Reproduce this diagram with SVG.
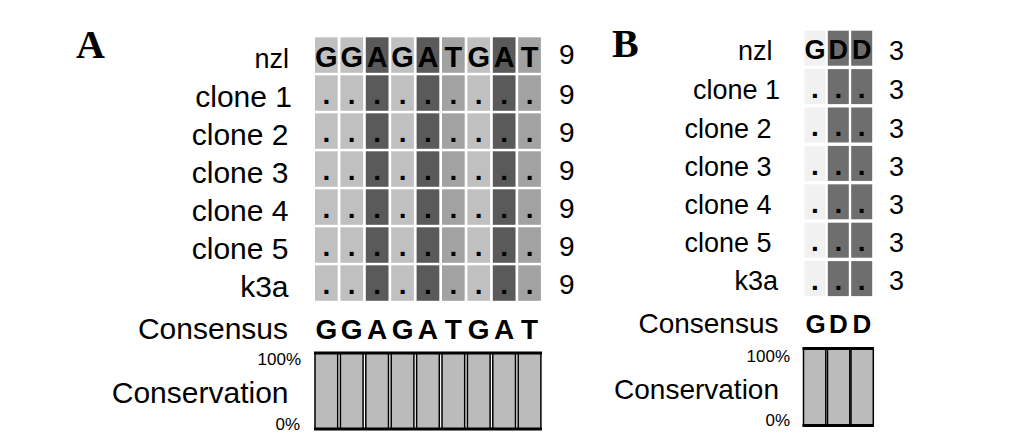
<svg xmlns="http://www.w3.org/2000/svg" width="1033" height="440" viewBox="0 0 1033 440">
<style>
text{font-family:"Liberation Sans",Arial,sans-serif;fill:#000}
.lbl{font-size:30px;text-anchor:end}
.num{font-size:28px}
.pl{font-family:"Liberation Serif","Times New Roman",serif;font-size:40px;font-weight:bold}
.seq{font-size:29px;font-weight:bold;text-anchor:middle}
.dot{font-size:28px;font-weight:bold;text-anchor:middle}
.pct{font-size:17px;text-anchor:end}
.cG{fill:#c0c0c0}.cA{fill:#5a5a5a}.cT{fill:#a2a2a2}
.bG{fill:#f1f1f1}.bD{fill:#6e6e6e}
.bar{fill:#bbbbbb;stroke:#000;stroke-width:1.5}
.rule{stroke:#000;stroke-width:3}
</style>
<defs>
<g id="rowA">
<rect class="cG" x="315" y="0" width="22.7" height="35.5"/>
<rect class="cG" x="340.4" y="0" width="22.7" height="35.5"/>
<rect class="cA" x="365.8" y="0" width="22.7" height="35.5"/>
<rect class="cG" x="391.2" y="0" width="22.7" height="35.5"/>
<rect class="cA" x="416.6" y="0" width="22.7" height="35.5"/>
<rect class="cT" x="442" y="0" width="22.7" height="35.5"/>
<rect class="cG" x="467.4" y="0" width="22.7" height="35.5"/>
<rect class="cA" x="492.8" y="0" width="22.7" height="35.5"/>
<rect class="cT" x="518.2" y="0" width="22.7" height="35.5"/>
</g>
<g id="dotsA">
<text class="dot" x="326.35" y="28.5">.</text><text class="dot" x="351.75" y="28.5">.</text><text class="dot" x="377.15" y="28.5">.</text><text class="dot" x="402.55" y="28.5">.</text><text class="dot" x="427.95" y="28.5">.</text><text class="dot" x="453.35" y="28.5">.</text><text class="dot" x="478.75" y="28.5">.</text><text class="dot" x="504.15" y="28.5">.</text><text class="dot" x="529.55" y="28.5">.</text>
</g>
<g id="rowB">
<rect class="bG" x="804.5" y="0" width="21" height="35"/>
<rect class="bD" x="827.8" y="0" width="21" height="35"/>
<rect class="bD" x="851.2" y="0" width="21" height="35"/>
</g>
<g id="dotsB">
<text class="dot" x="815" y="28.7">.</text><text class="dot" x="838.3" y="28.7">.</text><text class="dot" x="861.7" y="28.7">.</text>
</g>
</defs>

<g id="panelA">
<text class="pl" x="76" y="58">A</text>
<g id="A-nzl">
<use href="#rowA" y="37.3"/>
<text class="seq" x="326.35" y="66.5">G</text><text class="seq" x="351.75" y="66.5">G</text><text class="seq" x="377.15" y="66.5">A</text><text class="seq" x="402.55" y="66.5">G</text><text class="seq" x="427.95" y="66.5">A</text><text class="seq" x="453.35" y="66.5">T</text><text class="seq" x="478.75" y="66.5">G</text><text class="seq" x="504.15" y="66.5">A</text><text class="seq" x="529.55" y="66.5">T</text>
<text class="lbl" x="289" y="67.5" style="font-size:27px">nzl</text>
<text class="num" x="559" y="64">9</text>
</g>
<g id="A-clone1"><use href="#rowA" y="75.3"/><use href="#dotsA" y="75.3"/><text class="lbl" x="292" y="107.3">clone 1</text><text class="num" x="559" y="104.3">9</text></g>
<g id="A-clone2"><use href="#rowA" y="113.3"/><use href="#dotsA" y="113.3"/><text class="lbl" x="288.5" y="145.3">clone 2</text><text class="num" x="559" y="142.3">9</text></g>
<g id="A-clone3"><use href="#rowA" y="151.3"/><use href="#dotsA" y="151.3"/><text class="lbl" x="288.5" y="183.3">clone 3</text><text class="num" x="559" y="180.3">9</text></g>
<g id="A-clone4"><use href="#rowA" y="189.3"/><use href="#dotsA" y="189.3"/><text class="lbl" x="288.5" y="221.3">clone 4</text><text class="num" x="559" y="218.3">9</text></g>
<g id="A-clone5"><use href="#rowA" y="227.3"/><use href="#dotsA" y="227.3"/><text class="lbl" x="288.5" y="259.3">clone 5</text><text class="num" x="559" y="256.3">9</text></g>
<g id="A-k3a"><use href="#rowA" y="265.3"/><use href="#dotsA" y="265.3"/><text class="lbl" x="288.5" y="297.3">k3a</text><text class="num" x="559" y="294.3">9</text></g>
<g id="A-consensus">
<text class="lbl" x="288" y="339">Consensus</text>
<text class="seq" x="326.35" y="339" style="font-size:28px">G</text><text class="seq" x="351.75" y="339" style="font-size:28px">G</text><text class="seq" x="377.15" y="339" style="font-size:28px">A</text><text class="seq" x="402.55" y="339" style="font-size:28px">G</text><text class="seq" x="427.95" y="339" style="font-size:28px">A</text><text class="seq" x="453.35" y="339" style="font-size:28px">T</text><text class="seq" x="478.75" y="339" style="font-size:28px">G</text><text class="seq" x="504.15" y="339" style="font-size:28px">A</text><text class="seq" x="529.55" y="339" style="font-size:28px">T</text>
</g>
<g id="A-conservation">
<text class="lbl" x="288.5" y="402.5">Conservation</text>
<text class="pct" x="301" y="365">100%</text>
<text class="pct" x="300" y="430">0%</text>
<rect class="bar" x="315" y="353" width="22.7" height="76"/>
<rect class="bar" x="340.4" y="353" width="22.7" height="76"/>
<rect class="bar" x="365.8" y="353" width="22.7" height="76"/>
<rect class="bar" x="391.2" y="353" width="22.7" height="76"/>
<rect class="bar" x="416.6" y="353" width="22.7" height="76"/>
<rect class="bar" x="442" y="353" width="22.7" height="76"/>
<rect class="bar" x="467.4" y="353" width="22.7" height="76"/>
<rect class="bar" x="492.8" y="353" width="22.7" height="76"/>
<rect class="bar" x="518.2" y="353" width="22.7" height="76"/>
<line class="rule" x1="314" y1="353" x2="542" y2="353"/>
<line class="rule" x1="314" y1="429" x2="542" y2="429"/>
</g>
</g>

<g id="panelB">
<text class="pl" x="612" y="57">B</text>
<g id="B-nzl">
<use href="#rowB" y="30.7"/>
<text class="seq" x="815" y="59" style="font-size:27px">G</text><text class="seq" x="838.3" y="59" style="font-size:27px">D</text><text class="seq" x="861.7" y="59" style="font-size:27px">D</text>
<text class="lbl" x="772.5" y="60" style="font-size:27px">nzl</text>
<text class="num" x="889" y="60" style="font-size:27px">3</text>
</g>
<g id="B-clone1"><use href="#rowB" y="69.1"/><use href="#dotsB" y="69.1"/><text class="lbl" x="780" y="99.3" style="font-size:27px">clone 1</text><text class="num" x="889" y="99.3" style="font-size:27px">3</text></g>
<g id="B-clone2"><use href="#rowB" y="107.5"/><use href="#dotsB" y="107.5"/><text class="lbl" x="771.5" y="137.5" style="font-size:27px">clone 2</text><text class="num" x="889" y="137.5" style="font-size:27px">3</text></g>
<g id="B-clone3"><use href="#rowB" y="145.9"/><use href="#dotsB" y="145.9"/><text class="lbl" x="771.5" y="175.5" style="font-size:27px">clone 3</text><text class="num" x="889" y="175.5" style="font-size:27px">3</text></g>
<g id="B-clone4"><use href="#rowB" y="184.3"/><use href="#dotsB" y="184.3"/><text class="lbl" x="771.5" y="213.5" style="font-size:27px">clone 4</text><text class="num" x="889" y="213.5" style="font-size:27px">3</text></g>
<g id="B-clone5"><use href="#rowB" y="222.7"/><use href="#dotsB" y="222.7"/><text class="lbl" x="771.5" y="251.7" style="font-size:27px">clone 5</text><text class="num" x="889" y="251.7" style="font-size:27px">3</text></g>
<g id="B-k3a"><use href="#rowB" y="261.1"/><use href="#dotsB" y="261.1"/><text class="lbl" x="778" y="289.5" style="font-size:27px">k3a</text><text class="num" x="889" y="289.5" style="font-size:27px">3</text></g>
<g id="B-consensus">
<text class="lbl" x="778.5" y="333.3" style="font-size:28px">Consensus</text>
<text class="seq" x="815.5" y="333.3" style="font-size:26px">G</text><text class="seq" x="838.5" y="333.3" style="font-size:26px">D</text><text class="seq" x="862" y="333.3" style="font-size:26px">D</text>
</g>
<g id="B-conservation">
<text class="lbl" x="779" y="399.3" style="font-size:28px">Conservation</text>
<text class="pct" x="790" y="361.7">100%</text>
<text class="pct" x="790" y="426">0%</text>
<rect class="bar" x="803.5" y="348.5" width="22.3" height="77"/>
<rect class="bar" x="827.5" y="348.5" width="22.3" height="77"/>
<rect class="bar" x="851" y="348.5" width="22.3" height="77"/>
<line class="rule" x1="802.5" y1="348.5" x2="874" y2="348.5"/>
<line class="rule" x1="802.5" y1="425.5" x2="874" y2="425.5"/>
</g>
</g>
</svg>
